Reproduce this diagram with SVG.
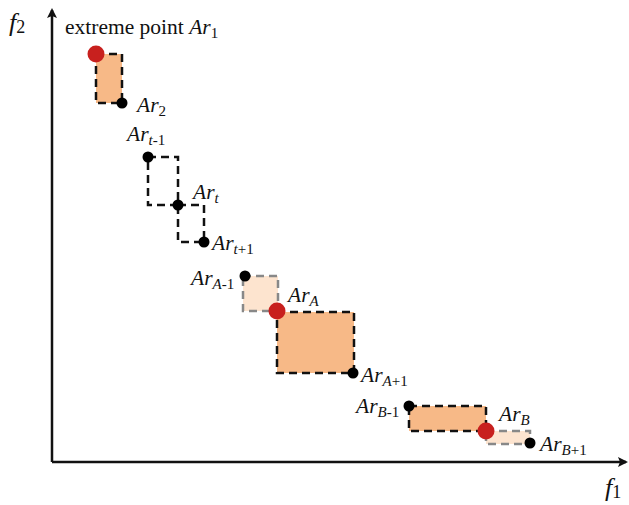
<svg xmlns="http://www.w3.org/2000/svg" width="629" height="505" viewBox="0 0 629 505">
<style>
text{font-family:"Liberation Serif","Times New Roman",serif;font-size:21.5px;fill:#111}
.i{font-style:italic}
.s{font-size:15px}
.f{font-size:26px}
.fs{font-size:18px;font-style:normal}
.box{stroke:#111;stroke-width:2.5;stroke-dasharray:8 5}
.gbox{stroke:#888;stroke-width:2.5;stroke-dasharray:8 5}
.or{fill:#F7B987}
.lt{fill:#FDE4CF}
.dot{fill:#000}
.red{fill:#C8201E}
.ax{stroke:#111;stroke-width:2.5;fill:none}
</style>
<defs>
<marker id="ah" markerWidth="10" markerHeight="10" refX="8" refY="5" orient="auto" markerUnits="userSpaceOnUse" viewBox="0 0 10 10">
<path d="M0,0 L10,5 L0,10 L2,5 Z" fill="#111"/>
</marker>
</defs>
<g id="connectors">
<path class="ax" d="M52,462 L52,10" marker-end="url(#ah)"/>
<path class="ax" d="M52,462 L626,462" marker-end="url(#ah)"/>
</g>
<g id="axis-labels">
<text x="9" y="31" class="i f">f<tspan class="fs" dy="2">2</tspan></text>
<text x="605" y="496" class="i f">f<tspan class="fs" dy="2">1</tspan></text>
</g>
<g id="box1"><rect x="96" y="54" width="26" height="49" class="or box"/></g>
<g id="boxt1"><rect x="148" y="157" width="30" height="48" fill="none" class="box"/></g>
<g id="boxt"><rect x="178" y="205" width="26" height="37" fill="none" class="box"/></g>
<g id="boxA1"><rect x="243" y="276" width="35" height="35" class="lt gbox"/></g>
<g id="boxA"><rect x="277" y="312" width="77" height="61" class="or box"/></g>
<g id="boxB1"><rect x="409" y="406" width="77" height="25" class="or box"/></g>
<g id="boxB"><rect x="486" y="431" width="44" height="13" class="lt gbox"/></g>
<g id="Ar1"><circle cx="96" cy="54" r="8.5" class="red"/><text x="65" y="34">extreme point <tspan class="i">Ar</tspan><tspan class="s" dy="4">1</tspan></text></g>
<g id="Ar2"><circle cx="122" cy="103" r="5.5" class="dot"/><text x="137" y="112" class="i">Ar<tspan class="s" dy="4" style="font-style:normal">2</tspan></text></g>
<g id="Art-1"><circle cx="148" cy="157" r="5.5" class="dot"/><text x="127" y="141" class="i">Ar<tspan class="s" dy="4">t</tspan><tspan class="s" style="font-style:normal">-1</tspan></text></g>
<g id="Art"><circle cx="178" cy="205" r="5.5" class="dot"/><text x="193" y="199" class="i">Ar<tspan class="s" dy="4">t</tspan></text></g>
<g id="Art+1"><circle cx="204" cy="242" r="5.5" class="dot"/><text x="212" y="250" class="i">Ar<tspan class="s" dy="4">t</tspan><tspan class="s" style="font-style:normal">+1</tspan></text></g>
<g id="ArA-1"><circle cx="245" cy="276" r="5.5" class="dot"/><text x="191" y="285" class="i">Ar<tspan class="s" dy="4">A</tspan><tspan class="s" style="font-style:normal">-1</tspan></text></g>
<g id="ArA"><circle cx="277" cy="311" r="8.5" class="red"/><text x="288" y="302" class="i">Ar<tspan class="s" dy="4">A</tspan></text></g>
<g id="ArA+1"><circle cx="353" cy="373" r="5.5" class="dot"/><text x="361" y="382" class="i">Ar<tspan class="s" dy="4">A</tspan><tspan class="s" style="font-style:normal">+1</tspan></text></g>
<g id="ArB-1"><circle cx="409" cy="406" r="5.5" class="dot"/><text x="356" y="413" class="i">Ar<tspan class="s" dy="4">B</tspan><tspan class="s" style="font-style:normal">-1</tspan></text></g>
<g id="ArB"><circle cx="486" cy="431" r="8.5" class="red"/><text x="499" y="421" class="i">Ar<tspan class="s" dy="4">B</tspan></text></g>
<g id="ArB+1"><circle cx="530" cy="443" r="5.5" class="dot"/><text x="540" y="451" class="i">Ar<tspan class="s" dy="4">B</tspan><tspan class="s" style="font-style:normal">+1</tspan></text></g>
</svg>
